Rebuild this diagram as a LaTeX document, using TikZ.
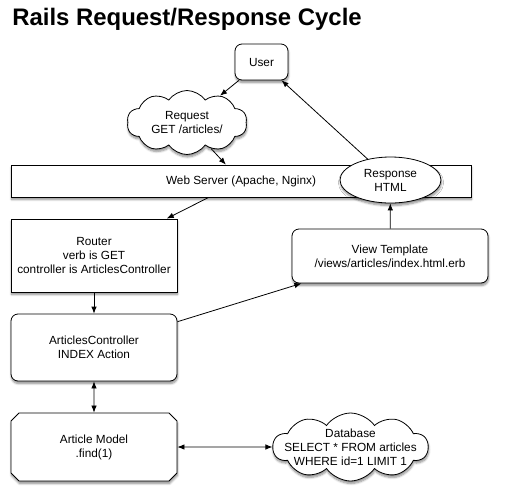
\documentclass[tikz,border=0pt]{standalone}
\usepackage{fontspec}
\setmainfont{Liberation Sans}
\usetikzlibrary{shapes.geometric,shapes.symbols,shapes.misc,arrows.meta,shadows.blur}

\begin{document}
\begin{tikzpicture}[x=1pt,y=-1pt,line width=0.8pt,
  every node/.style={font=\fontsize{11.8}{14}\selectfont,align=center,inner sep=0pt},
  >={Latex[length=7pt,width=5.5pt]},
  shade/.style={blur shadow={shadow xshift=0.5pt,shadow yshift=-2.5pt,shadow blur steps=6,shadow opacity=45}},
  box/.style={shape=rectangle,draw,fill=white,shade},
  rbox/.style={box,rounded corners=7pt},
  puff/.style={shape=cloud,draw,fill=white,shade,cloud puffs=10,cloud puff arc=110,cloud ignores aspect,inner xsep=-30pt,inner ysep=-20pt}]
%[inner sep=1mm]
\useasboundingbox (0,0) rectangle (512,496);
\path (12,25) node (title) [anchor=base west,font=\fontsize{23.9}{28}\selectfont\bfseries] {Rails Request/Response Cycle};
\path (261.5,62) node (user) [rbox,minimum width=53pt,minimum height=36pt] {User};
\path (187,122.5) node (request) [puff,minimum width=120pt,minimum height=64pt] {Request\\GET /articles/};
\path (241,181) node (web) [box,minimum width=460pt,minimum height=32pt] {Web Server (Apache, Nginx)};
\path (390.5,180) node (response) [shape=ellipse,draw,fill=white,shade,minimum width=101pt,minimum height=46pt] {Response\\HTML};
\path (94,255.5) node (router) [box,minimum width=166pt,minimum height=73pt] {Router\\verb is GET\\controller is ArticlesController};
\path (390,256) node (view) [rbox,minimum width=196pt,minimum height=54pt] {View Template\\/views/articles/index.html.erb};
\path (94,347.5) node (ctrl) [rbox,minimum width=166pt,minimum height=67pt] {ArticlesController\\INDEX Action};
\path (94,447) node (model) [box,shape=chamfered rectangle,chamfered rectangle xsep=4pt,chamfered rectangle ysep=4pt,minimum width=166pt,minimum height=68pt] {Article Model\\.find(1)};
\path (350.5,447) node (db) [puff,minimum width=155pt,minimum height=68pt] {Database\\SELECT * FROM articles\\WHERE id=1 LIMIT 1};

\draw [->] (user) to (request);
\draw [->] (request) to (web);
\draw [->] (web) to (router);
\draw [->] (router) to (ctrl);
\draw [->] (ctrl) to (view);
\draw [->] (view) to (response);
\draw [->] (response) to (user);
\draw [<->] (ctrl) to (model);
\draw [<->] (model) to (db);
\end{tikzpicture}
\end{document}
